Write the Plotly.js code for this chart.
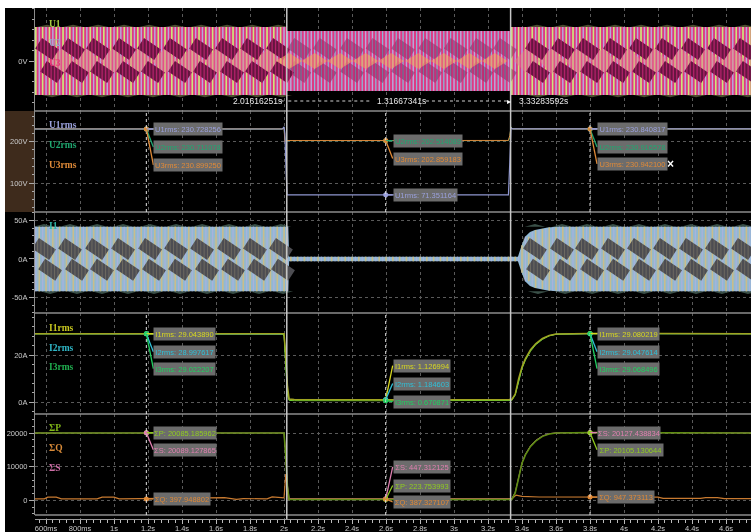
<!DOCTYPE html>
<html><head><meta charset="utf-8">
<script src="https://cdn.plot.ly/plotly-3.0.1.min.js"></script>
<style>html,body{margin:0;padding:0;background:#fff;overflow:hidden}
#c{position:absolute;left:5px;top:8px;width:746px;height:524px;filter:blur(0.45px)}</style>
</head><body><div id="c"></div><script>
// ---------- DATA ----------
const cycleTimes=[0.54,0.56,0.58,0.60,0.62,0.64,0.66,0.68,0.70,0.72,0.74,0.76,0.78,0.80,0.82,0.84,0.86,0.88,0.90,0.92,0.94,0.96,0.98,1.00,1.02,1.04,1.06,1.08,1.10,1.12,1.14,1.16,1.18,1.20,1.22,1.24,1.26,1.28,1.30,1.32,1.34,1.36,1.38,1.40,1.42,1.44,1.46,1.48,1.50,1.52,1.54,1.56,1.58,1.60,1.62,1.64,1.66,1.68,1.70,1.72,1.74,1.76,1.78,1.80,1.82,1.84,1.86,1.88,1.90,1.92,1.94,1.96,1.98,2.00,2.02,2.04,2.06,2.08,2.10,2.12,2.14,2.16,2.18,2.20,2.22,2.24,2.26,2.28,2.30,2.32,2.34,2.36,2.38,2.40,2.42,2.44,2.46,2.48,2.50,2.52,2.54,2.56,2.58,2.60,2.62,2.64,2.66,2.68,2.70,2.72,2.74,2.76,2.78,2.80,2.82,2.84,2.86,2.88,2.90,2.92,2.94,2.96,2.98,3.00,3.02,3.04,3.06,3.08,3.10,3.12,3.14,3.16,3.18,3.20,3.22,3.24,3.26,3.28,3.30,3.32,3.34,3.36,3.38,3.40,3.42,3.44,3.46,3.48,3.50,3.52,3.54,3.56,3.58,3.60,3.62,3.64,3.66,3.68,3.70,3.72,3.74,3.76,3.78,3.80,3.82,3.84,3.86,3.88,3.90,3.92,3.94,3.96,3.98,4.00,4.02,4.04,4.06,4.08,4.10,4.12,4.14,4.16,4.18,4.20,4.22,4.24,4.26,4.28,4.30,4.32,4.34,4.36,4.38,4.40,4.42,4.44,4.46,4.48,4.50,4.52,4.54,4.56,4.58,4.60,4.62,4.64,4.66,4.68,4.70,4.72,4.74];
// voltage waveform peak envelopes (V)
const vEnvTime=[0.535,2.016,2.017,3.333,3.334,4.747];
const vPeakOuter=[325,325,286,286,325,325];
const vEnvStepT=[0.535,2.016,3.333];
const u1Peak=[325,100,325];
const u23Peak=[325,286,325];
// moire patches in the voltage waveform (times, s)
const vDarkTop=[0.606,0.759,0.906,1.059,1.206,1.359,1.512,1.665,1.812,1.965,3.488,3.641,3.788,3.947,4.100,4.253,4.406,4.559,4.712];
const vDarkBot=[0.635,0.782,0.929,1.082,1.229,1.388,1.535,1.694,1.841,1.988,3.494,3.653,3.812,3.965,4.118,4.271,4.424,4.576,4.729];
const vLight=[0.694,0.841,0.994,1.147,1.300,1.453,1.606,1.753,1.906,3.429,3.576,3.729,3.876,4.029,4.182,4.335,4.488,4.641];
const vDipDark=[2.09,2.24,2.40,2.55,2.70,2.86,3.01,3.16,3.30];
const vDipBand=[2.03,2.18,2.33,2.48,2.63,2.79,2.94,3.09,3.24];
const vPatchDt=[-0.03,0.07,0.03,-0.07];
const vPatchDv=[105,-5,-105,5];
const vPatchCentre=[115,-105];
const vLightDt=[-0.076,0,0.076,0];
const vLightDv=[0,125,0,-125];
const vHumpDt=[-0.06,0,0.06];
const vHumpDv=[0,22,0];
// current waveform
const iEnvTime=[0.535,2.025,2.03,3.376,3.398,3.418,3.447,3.476,3.506,3.55,3.606,4.747];
const iPeak=[42,42,3,3,18,29,35,37.5,39,41,42,42];
const iDarkTop=[0.588,0.741,0.900,1.053,1.212,1.365,1.518,1.676,1.829,1.982,3.476,3.635,3.782,3.935,4.088,4.241,4.394,4.547,4.700];
const iDarkBot=[0.624,0.782,0.929,1.082,1.235,1.388,1.547,1.700,1.853,1.994,3.494,3.653,3.812,3.965,4.118,4.271,4.424,4.576,4.729];
const iPatchDt=[-0.03,0.07,0.03,-0.07];
const iPatchDa=[14.3,-0.7,-14.3,0.7];
const iPatchCentre=[13,-14];
const iHumpDa=[0,3.5,0];
// RMS voltages
const uTime=[0.535,1.0,1.99,2.0,2.005,2.012,2.018,2.6,3.32,3.328,3.335,3.345,3.8,4.747];
const u1rms=[230.7,230.7,230.7,236,220,130,71.4,71.35,71.4,150,233,230.9,230.84,230.8];
const u2rms=[230.7,230.7,230.7,235,205,202,202.5,202.5,202.6,210,236,231,230.9,230.9];
const u3rms=[230.9,230.9,230.9,234,200,203,202.9,202.86,203,215,234,231,230.94,230.9];
// RMS currents
const iTime=[0.535,1.2,1.5,1.99,2.0,2.01,2.02,2.03,2.06,2.6,3.0,3.34,3.36,3.38,3.40,3.42,3.45,3.48,3.52,3.56,3.6,3.8,4.2,4.747];
const i1rms=[29,29.04,29.1,29,29,20,7,1.4,1.2,1.13,1.2,1.2,3.5,10,15,18.5,22.3,24.8,27,28.3,28.9,29.08,29.1,29];
const i2rms=[29,29,29.05,29,28.8,18,5,1.1,1.2,1.18,1.1,1.1,3.3,9.7,14.7,18.2,22,24.6,26.8,28.2,28.8,29.05,29.05,29];
const i3rms=[29,29.02,29,29,28,14,3,0.8,0.7,0.67,0.8,0.8,3,9.3,14.3,17.8,21.6,24.3,26.6,28.1,28.8,29.07,29.05,29];
// powers
const pTime=[0.535,1.2,1.99,2.0,2.01,2.02,2.03,2.6,3.34,3.36,3.38,3.40,3.42,3.45,3.48,3.52,3.56,3.6,3.8,4.25,4.747];
const pP=[20000,20085,20000,20000,13000,4000,240,224,240,2200,7000,11000,13500,16000,17600,19000,19700,20000,20105,20150,20000];
const pS=[20010,20089,20010,20010,13500,4500,460,447,460,2400,7300,11200,13700,16200,17800,19100,19800,20050,20127,20170,20020];
const qTime=[0.535,0.59,0.61,0.66,0.69,0.9,0.93,1.0,1.03,1.6,1.65,1.72,1.76,1.9,1.93,2.0,2.01,2.025,2.035,2.6,3.34,3.365,3.40,3.5,3.6,4.2,4.23,4.45,4.48,4.55,4.59,4.747];
const pQ=[450,450,950,950,450,450,950,950,450,800,800,300,500,450,1000,700,7800,300,390,387,400,1550,1150,980,947,947,550,550,800,800,500,500];
// cursor labels and callouts
const cursorTimes=[2.01616251,3.33283592];
const markerTimes=[1.19,2.598,3.8];
const calloutText=["U1rms: 230.728256","U2rms: 230.711078","U3rms: 230.899250","U2rms: 202.514089","U3rms: 202.859183","U1rms: 71.351164","U1rms: 230.840817","U2rms: 230.916578","U3rms: 230.942100","I1rms: 29.043890","I2rms: 28.997617","I3rms: 29.022207","I1rms: 1.126994","I2rms: 1.184603","I3rms: 0.670871","I1rms: 29.080219","I2rms: 29.047614","I3rms: 29.068496","ΣP: 20085.185962","ΣS: 20089.127865","ΣQ: 397.948802","ΣS: 447.312125","ΣP: 223.753993","ΣQ: 387.327107","ΣS: 20127.438834","ΣP: 20105.130644","ΣQ: 947.373113"];
const calloutValue=[230.728,230.711,230.899,202.514,202.859,71.351,230.841,230.917,230.942,29.044,28.998,29.022,1.127,1.185,0.671,29.08,29.048,29.068,20085,20089,398,447,224,387,20127,20105,947];
const calloutMarker=[0,0,0,1,1,1,2,2,2,0,0,0,1,1,1,2,2,2,0,0,0,1,1,1,2,2,2];
const calloutAxis=["y2","y2","y2","y2","y2","y2","y2","y2","y2","y4","y4","y4","y4","y4","y4","y4","y4","y4","y5","y5","y5","y5","y5","y5","y5","y5","y5"];
const calloutColor=["#9aa0dc","#1fa870","#e08a38","#1fa870","#e08a38","#9aa0dc","#9aa0dc","#1fa870","#e08a38","#d8d820","#30c0d8","#20d060","#d8d820","#30c0d8","#20d060","#d8d820","#30c0d8","#20d060","#90cc20","#e080b0","#e08a38","#e080b0","#90cc20","#e08a38","#e080b0","#90cc20","#e08a38"];
const calloutWidth=[68,68,68,68,68,63,69,69,69,61,61,61,56,56,56,61,61,61,62,62,56,56,56,56,62,65,56];
// labels offset from marker, px
const calloutDy=[0,18,36,0,18,0,0,18,35,0,18,35,-34,-16,1,0,18,35,0,17,0,-32,-14,3,0,17,0];
const xTickVals=[0.6,0.8,1,1.2,1.4,1.6,1.8,2,2.2,2.4,2.6,2.8,3,3.2,3.4,3.6,3.8,4,4.2,4.4,4.6];
const xTickText=["600ms","800ms","1s","1.2s","1.4s","1.6s","1.8s","2s","2.2s","2.4s","2.6s","2.8s","3s","3.2s","3.4s","3.6s","3.8s","4s","4.2s","4.4s","4.6s"];
const seriesNames=["U1","U2","U3","U1rms","U2rms","U3rms","I1","I1rms","I2rms","I3rms","ΣP","ΣQ","ΣS"];
const seriesColors=["#a8cc40","#9aa8c8","#e83878","#9aa0dc","#1fa870","#e08a38","#30b8a8","#c8c820","#30b8c8","#20b050","#80b818","#d88a38","#d070a8"];
const seriesPageY=[24,43,63,125,145,165,226,328,348,367,428,448,468];

// ---------- DRAWING ----------
const pageTop=8,pageBottom=519,pageH=pageBottom-pageTop;
const yd=(a,b)=>[(pageBottom-b)/pageH,(pageBottom-a)/pageH];
const py=y=>(pageBottom-y)/pageH, px=x=>(x-35)/716;
const stepLookup=(ts,vs,t)=>{let v=vs[0];for(let i=0;i<ts.length;i++){if(t>=ts[i])v=vs[i];}return v;};
function stripes(times,peakFn,color,width,yaxis,opacity,shift){
  const x=[],y=[];
  times.forEach(t0=>{const t=t0+(shift||0);const p=peakFn(t);if(p==null)return;x.push(t,t,null);y.push(-p,p,null);});
  return {x,y,yaxis,type:'scatter',mode:'lines',line:{color,width},opacity:opacity==null?1:opacity,hoverinfo:'skip',showlegend:false};
}
function env(ts,pk,color,yaxis){
  return {x:ts.concat(ts.slice().reverse()),y:pk.concat(pk.slice().reverse().map(v=>-v)),yaxis,type:'scatter',mode:'lines',line:{width:0},fill:'toself',fillcolor:color,hoverinfo:'skip',showlegend:false};
}
function patches(centres,dt,dv,c0,color,yaxis,opacity,sy){
  const x=[],y=[];const s=sy||1;
  centres.forEach(t=>{dt.forEach((d,i)=>{x.push(t+d);y.push(c0+s*dv[i]);});x.push(t+dt[0],null);y.push(c0+s*dv[0],null);});
  return {x,y,yaxis,type:'scatter',mode:'lines',line:{width:0},fill:'toself',fillcolor:color,opacity:opacity==null?1:opacity,hoverinfo:'skip',showlegend:false};
}
function ln(x,y,color,yaxis,width){return {x,y,yaxis,type:'scatter',mode:'lines',line:{color,width:width||1},hoverinfo:'skip',showlegend:false};}
const evenT=cycleTimes.filter((_,i)=>i%2==0), oddT=cycleTimes.filter((_,i)=>i%2==1);
const inDip=t=>t>=cursorTimes[0]&&t<cursorTimes[1];
const u1Fn=t=>inDip(t)?null:stepLookup(vEnvStepT,u1Peak,t);
const u23Fn=t=>stepLookup(vEnvStepT,u23Peak,t);
const dipFn=t=>inDip(t)?stepLookup(vEnvStepT,u23Peak,t):null;
const iFn=t=>stepLookup(iEnvTime,iPeak,t);
const traces=[
 // voltage panel
 patches(vDarkTop,vHumpDt,vHumpDv,325,'#4c4c30','y'),
 patches(vDarkBot,vHumpDt,vHumpDv,-325,'#4c4c30','y',1,-1),
 env(vEnvTime,vPeakOuter,'#d0457f','y'),
 stripes(evenT,u1Fn,'#cfe47c',1.7,'y'),
 stripes(oddT,u23Fn,'#b9a9dc',1.5,'y'),
 stripes(evenT,dipFn,'#8fb4d8',1.3,'y'),
 patches(vLight,vLightDt,vLightDv,0,'#d9958f','y',0.7),
 patches(vDarkTop,vPatchDt,vPatchDv,vPatchCentre[0],'#64163f','y'),
 patches(vDarkBot,vPatchDt,vPatchDv,vPatchCentre[1],'#64163f','y'),
 patches(vDipDark,vPatchDt,vPatchDv,vPatchCentre[0],'#5a1440','y',0.4),
 patches(vDipDark,vPatchDt,vPatchDv,vPatchCentre[1],'#5a1440','y',0.4),
 patches(vDipBand,vLightDt,vLightDv,0,'#e8a868','y',0.75,0.62),
 stripes(cycleTimes,u23Fn,'#f02a8c',1.3,'y',0.55,0.01),
 // rms voltage panel
 ln(uTime,u2rms,'#1fa870','y2'),ln(uTime,u3rms,'#d8863a','y2'),ln(uTime,u1rms,'#8f96d0','y2',1.2),
 // current panel
 patches(iDarkTop,vHumpDt,iHumpDa,42,'#3a5048','y3'),
 patches(iDarkBot,vHumpDt,iHumpDa,-42,'#3a5048','y3',1,-1),
 env(iEnvTime,iPeak,'#90b8d4','y3'),
 stripes(oddT,iFn,'#c9bd8a',1.6,'y3'),
 stripes(evenT,iFn,'#aab2dc',1.2,'y3'),
 patches(iDarkTop,iPatchDt,iPatchDa,iPatchCentre[0],'#4d4d52','y3'),
 patches(iDarkBot,iPatchDt,iPatchDa,iPatchCentre[1],'#4d4d52','y3'),
 stripes(cycleTimes,t=>t>1&&iFn(t)<10?null:28,'#c9bd8a',0.9,'y3',0.28,0.01),
 // rms current
 ln(iTime,i2rms,'#30c0d8','y4'),ln(iTime,i3rms,'#70d030','y4'),ln(iTime,i1rms,'#a0a420','y4',1.5),
 // power
 ln(pTime,pS,'#d070a8','y5'),ln(qTime,pQ,'#c87a30','y5',1.2),ln(pTime,pP,'#5f8e12','y5',1.6),
 // x-axis carrier
 {x:[0.6],y:[0],yaxis:'y6',type:'scatter',mode:'markers',marker:{opacity:0},hoverinfo:'skip',showlegend:false}
];
// callout markers
calloutText.forEach((s,i)=>traces.push({x:[markerTimes[calloutMarker[i]]],y:[calloutValue[i]],yaxis:calloutAxis[i],type:'scatter',mode:'markers',marker:{color:calloutColor[i],size:5},hoverinfo:'skip',showlegend:false}));

const shapes=[],annotations=[];
// brown strip behind the second panel's scale
shapes.push({type:'rect',xref:'paper',yref:'paper',x0:-30/716,x1:0,y0:py(212),y1:py(111),fillcolor:'#3e2b1c',line:{width:0},layer:'below'});
// separators
[111,212,313,414,515].forEach(y=>shapes.push({type:'line',xref:'paper',yref:'paper',x0:0,x1:1,y0:py(y),y1:py(y),line:{color:'#8c8c8c',width:1.6}}));
// marker lines
["y2","y4","y5"].forEach(a=>markerTimes.forEach(t=>shapes.push({type:'line',xref:'x',yref:a+' domain',x0:t,x1:t,y0:0,y1:1,line:{color:'#e0e0e0',width:1,dash:'dot'}})));
// cursors
cursorTimes.forEach(t=>shapes.push({type:'line',xref:'x',yref:'paper',x0:t,x1:t,y0:0,y1:1,line:{color:'#c8c8c8',width:1.5}}));
// interval line
[[2.025,2.518],[2.835,3.315],[1.98,2.012]].forEach(s=>shapes.push({type:'line',xref:'x',yref:'paper',x0:s[0],x1:s[1],y0:py(101),y1:py(101),line:{color:'#d0d0d0',width:1,dash:'dot'}}));
const T=(text,x,y,size,color,extra)=>annotations.push(Object.assign({text,xref:'paper',yref:'paper',x:px(x),y:py(y),xanchor:'left',yanchor:'middle',showarrow:false,font:{family:'Liberation Sans',size,color}},extra||{}));
T('2.01616251s',231,101,8.5,'#e8e8e8');
T('1.31667341s',375,101,8.5,'#e8e8e8');
T('3.33283592s',517,101,8.5,'#e8e8e8');
T('▸',505,101,8,'#ffffff');
T('<b>×</b>',670,163.5,12,'#ffffff',{xanchor:'center'});
seriesNames.forEach((s,i)=>T('<b>'+s+'</b>',47,seriesPageY[i],9,seriesColors[i],{font:{family:'Liberation Serif',size:9.5,color:seriesColors[i]}}));
// callouts
calloutText.forEach((s,i)=>{
  const t=markerTimes[calloutMarker[i]],dx=7,dy=calloutDy[i],a=calloutAxis[i];
  shapes.push({type:'line',xref:'x',yref:a,xsizemode:'pixel',ysizemode:'pixel',xanchor:t,yanchor:calloutValue[i],x0:0,x1:dx,y0:0,y1:-dy,line:{color:calloutColor[i],width:1.3}});
  annotations.push({text:s,xref:'x',yref:a,x:t,y:calloutValue[i],xanchor:'left',yanchor:'middle',xshift:dx,yshift:-dy,showarrow:false,width:calloutWidth[i],height:12,align:'center',borderpad:0,bgcolor:'#6c6c6c',font:{family:'Liberation Sans',size:7.5,color:calloutColor[i]}});
});

const yBase=(range,dom,tv,tt,minorD)=>({domain:dom,range,anchor:'x',tickmode:'array',tickvals:tv,ticktext:tt,ticks:'outside',ticklen:5,tickcolor:'#aaa',tickwidth:1,showline:true,linecolor:'#8c8c8c',linewidth:1,showgrid:true,gridcolor:'#5a5a5a',griddash:'dot',gridwidth:1,zeroline:false,minor:{dtick:minorD,ticks:'outside',ticklen:2.5,tickcolor:'#aaa',showgrid:false},tickfont:{family:'Liberation Sans',size:7.5,color:'#c8c8c8'},fixedrange:true});
const layout={
 width:746,height:524,margin:{l:30,r:0,t:0,b:13},paper_bgcolor:'#000',plot_bgcolor:'#000',showlegend:false,hovermode:false,
 xaxis:{range:[0.535,4.747],anchor:'y6',domain:[0,1],tickmode:'array',tickvals:xTickVals,ticktext:xTickText,ticks:'outside',ticklen:4,ticklabelstandoff:-2,tickcolor:'#bbb',showline:true,linecolor:'#999',showgrid:true,gridcolor:'#5a5a5a',griddash:'dot',zeroline:false,minor:{dtick:0.04,tick0:0.6,ticks:'outside',ticklen:2.5,tickcolor:'#bbb',showgrid:false},tickfont:{family:'Liberation Sans',size:7.5,color:'#c8c8c8'},tickangle:0,fixedrange:true},
 yaxis:yBase([-478,506.7],yd(8,111),[0],['0V'],100),
 yaxis2:yBase([29.8,274.3],yd(111,212),[100,200],['100V','200V'],20),
 yaxis3:yBase([-70.1,61],yd(212,313),[-50,0,50],['-50A','0A','50A'],10),
 yaxis4:yBase([-4.95,37.8],yd(313,414),[0,20],['0A','20A'],4),
 yaxis5:yBase([-4368,25646],yd(414,515),[0,10000,20000],['0','10000','20000'],2000),
 yaxis6:{domain:yd(518,519),visible:false,anchor:'x',range:[0,1],fixedrange:true},
 shapes,annotations
};
Plotly.newPlot('c',traces,layout,{displayModeBar:false,staticPlot:true});
</script></body></html>
